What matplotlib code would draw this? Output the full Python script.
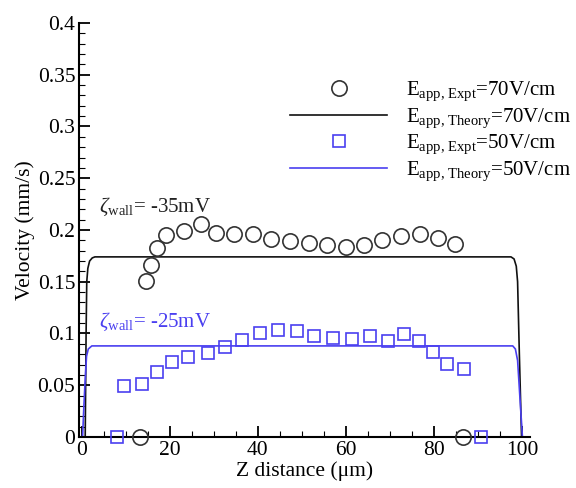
import matplotlib
matplotlib.use('Agg')
import matplotlib.pyplot as plt
import numpy as np

plt.rcParams['font.family'] = ['Liberation Serif', 'DejaVu Serif']
plt.rcParams['mathtext.fontset'] = 'custom'
plt.rcParams['mathtext.rm'] = 'Liberation Serif'
plt.rcParams['mathtext.it'] = 'Liberation Serif:italic'

BLUE = '#4a3ff0'

# experiment, E = 70 V/cm (circles)
expt70_x = [13.2, 14.5, 15.8, 17.0, 19.1, 23.3, 27.2, 30.5, 34.5, 38.9, 43.1, 47.3,
            51.7, 55.8, 60.0, 64.2, 68.3, 72.5, 76.9, 81.0, 84.8, 86.5]
expt70_y = [0.0, 0.151, 0.166, 0.183, 0.195, 0.199, 0.206, 0.197, 0.196, 0.196, 0.191, 0.189,
            0.187, 0.185, 0.184, 0.185, 0.190, 0.194, 0.196, 0.192, 0.186, 0.0]

# experiment, E = 50 V/cm (squares)
expt50_x = [8.1, 9.6, 13.8, 17.0, 20.5, 24.2, 28.6, 32.5, 36.4, 40.5, 44.6, 48.8, 52.8,
            57.1, 61.3, 65.5, 69.6, 73.1, 76.7, 79.9, 83.0, 86.9, 90.8]
expt50_y = [0.0, 0.049, 0.051, 0.063, 0.072, 0.077, 0.081, 0.087, 0.094, 0.100, 0.103, 0.102, 0.098,
            0.096, 0.095, 0.098, 0.093, 0.0995, 0.093, 0.0825, 0.071, 0.066, 0.0]

# theory profiles
theory70_x = [0.8, 1.0, 1.15, 1.4, 1.8, 2.4, 3.0, 50.0, 97.5, 98.2, 98.7, 99.0, 99.4, 99.9]
theory70_y = [0.0, 0.10, 0.150, 0.163, 0.170, 0.173, 0.174, 0.174, 0.174, 0.172, 0.165, 0.150, 0.08, 0.0]
theory50_x = [0.2, 0.5, 0.75, 1.1, 1.5, 2.3, 3.0, 50.0, 97.9, 98.5, 99.0, 99.5, 100.1]
theory50_y = [0.0, 0.03, 0.052, 0.078, 0.085, 0.088, 0.088, 0.088, 0.088, 0.085, 0.074, 0.04, 0.0]

fig = plt.figure(figsize=(5.76, 4.88), dpi=100)
ax = fig.add_axes([0.138, 0.1045, 0.782, 0.8485])

ax.plot(expt70_x, expt70_y, 'o', ms=11, mfc='none', mec='#333333', mew=1.2, clip_on=False,
        label=r'E$_{\rm app,\,Expt}$=70V/cm', zorder=4)
ax.plot(theory70_x, theory70_y, '-', color='#111111', lw=1.2,
        label=r'E$_{\rm app,\,Theory}$=70V/cm')
ax.plot(expt50_x, expt50_y, 's', ms=8.5, mfc='none', mec=BLUE, mew=1.2, clip_on=False,
        label=r'E$_{\rm app,\,Expt}$=50V/cm', zorder=4)
ax.plot(theory50_x, theory50_y, '-', color=BLUE, lw=1.2,
        label=r'E$_{\rm app,\,Theory}$=50V/cm')

ax.text(4.0, 0.222, r'$\zeta_{\rm wall}$= -35mV', fontsize=15, color='#222222', va='center')
ax.text(4.0, 0.111, r'$\zeta_{\rm wall}$= -25mV', fontsize=15, color=BLUE, va='center')

ax.set_xlim(-0.5, 101.8)
ax.set_ylim(0, 0.4)
ax.set_xticks([0, 20, 40, 60, 80, 100])
ax.set_xticks(np.arange(0, 101, 5), minor=True)
ax.set_yticks([0, 0.05, 0.1, 0.15, 0.2, 0.25, 0.3, 0.35, 0.4])
ax.set_yticklabels(['0', '0.05', '0.1', '0.15', '0.2', '0.25', '0.3', '0.35', '0.4'])
ax.set_yticks(np.arange(0, 0.401, 0.01), minor=True)
ax.tick_params(which='major', direction='in', length=8, width=1.3, labelsize=15.5, pad=3)
ax.tick_params(which='minor', direction='in', length=4, width=0.8)
for s in ['top', 'right']:
    ax.spines[s].set_visible(False)
for s in ['left', 'bottom']:
    ax.spines[s].set_linewidth(1.5)

ax.set_xlabel('Z distance (\u03bcm)', fontsize=15.5, labelpad=1)
ax.set_ylabel('Velocity (mm/s)', fontsize=15.5, labelpad=2)

ax.legend(loc='upper right', bbox_to_anchor=(1.11, 0.883), frameon=False, fontsize=15,
          handlelength=4.7, handletextpad=0.9, labelspacing=0.15, borderaxespad=0)

fig.savefig('out.png', dpi=100)
